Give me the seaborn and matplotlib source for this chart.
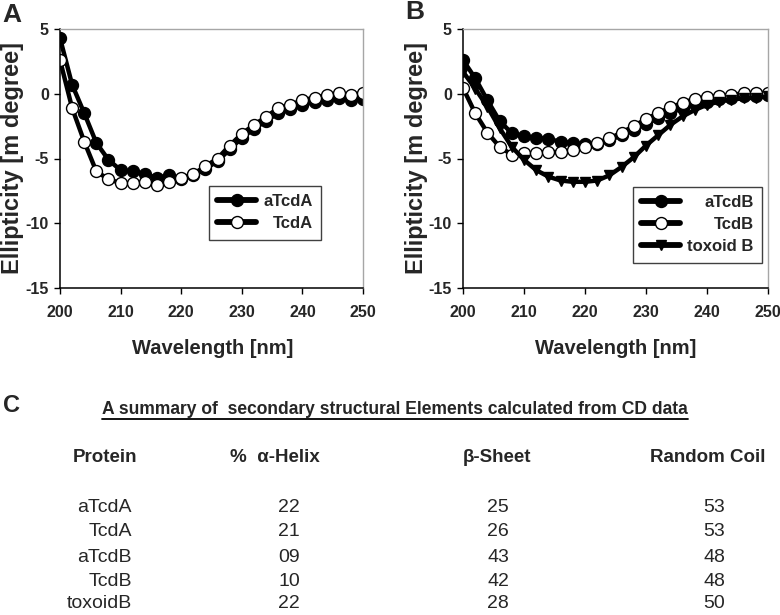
import matplotlib
matplotlib.use("Agg")
import matplotlib.pyplot as plt
import seaborn as sns
from matplotlib import font_manager
from matplotlib.lines import Line2D
from matplotlib.transforms import Affine2D

# ---------------- data ----------------
wavelength = list(range(200, 251, 2))

atcda = [4.3, 0.7, -1.5, -3.8, -5.1, -5.9, -6.0, -6.2, -6.5, -6.3, -6.6, -6.3, -5.8,
         -5.2, -4.3, -3.4, -2.7, -2.1, -1.5, -1.2, -0.9, -0.6, -0.45, -0.3, -0.45, -0.4]
tcda = [2.6, -1.1, -3.7, -6.0, -6.6, -6.9, -6.9, -6.85, -7.05, -6.8, -6.5, -6.2, -5.6,
        -5.0, -4.0, -3.1, -2.4, -1.8, -1.1, -0.85, -0.5, -0.3, -0.1, 0.05, -0.1, 0.05]

atcdb = [2.6, 1.2, -0.5, -2.1, -3.05, -3.3, -3.4, -3.5, -3.7, -3.8, -3.9, -3.9, -3.6,
         -3.2, -2.8, -2.3, -1.9, -1.5, -1.1, -0.8, -0.6, -0.4, -0.3, -0.2, -0.15, -0.1]
tcdb = [0.45, -1.5, -3.0, -4.1, -4.7, -4.6, -4.6, -4.5, -4.5, -4.35, -4.1, -3.8, -3.45,
        -3.0, -2.5, -1.95, -1.5, -1.05, -0.7, -0.4, -0.25, -0.15, -0.1, 0.05, 0.05, 0.05]
toxoidb = [1.7, 0.4, -1.0, -2.65, -4.1, -5.1, -5.9, -6.4, -6.7, -6.8, -6.8, -6.7, -6.3,
           -5.65, -4.9, -4.0, -3.2, -2.4, -1.75, -1.25, -0.85, -0.6, -0.45, -0.35, -0.3, -0.2]

x_ticks = [200, 210, 220, 230, 240, 250]
y_ticks = [5, 0, -5, -10, -15]

table_title = "A summary of  secondary structural Elements calculated from CD data"
table_headers = ["Protein", "%  α-Helix", "β-Sheet", "Random Coil"]
proteins = ["aTcdA", "TcdA", "aTcdB", "TcdB", "toxoidB"]
helix = ["22", "21", "09", "10", "22"]
sheet = ["25", "26", "43", "42", "28"]
coil = ["53", "53", "48", "48", "50"]

# ---------------- style ----------------
sns.set_style("white")
names = {f.name for f in font_manager.fontManager.ttflist}
HAS_NARROW = "Liberation Sans Narrow" in names
NARROW = "Liberation Sans Narrow" if HAS_NARROW else "Liberation Sans"
plt.rcParams["font.family"] = ["Liberation Sans", "DejaVu Sans"]

if HAS_NARROW:
    TICK_FS, LEG_FS, HEAD_FS, VAL_FS = 12.5, 13.0, 14.5, 15.0
else:
    TICK_FS, LEG_FS, HEAD_FS, VAL_FS = 11.5, 12.0, 13.5, 14.0

W, H = 780, 615
fig = plt.figure(figsize=(W / 100, H / 100), dpi=100)


def rect(l, t, r, b):
    return [l / W, 1 - b / H, (r - l) / W, (b - t) / H]


def fx(px):
    return px / W


def fy(py):
    return 1 - py / H


axA = fig.add_axes(rect(60, 29, 363, 288))
axB = fig.add_axes(rect(463, 29, 768, 288))

LW = 3.2


def draw(ax, y, label, marker, ms, mfc):
    sns.lineplot(x=wavelength, y=y, ax=ax, color="black", linewidth=LW,
                 marker=marker, markersize=ms, markerfacecolor=mfc,
                 markeredgecolor="black", markeredgewidth=1.0, label=label,
                 legend=False)


draw(axA, atcda, "aTcdA", "o", 8.6, "black")
draw(axA, tcda, "TcdA", "o", 8.6, "white")
draw(axB, atcdb, "aTcdB", "o", 8.6, "black")
draw(axB, tcdb, "TcdB", "o", 8.6, "white")
draw(axB, toxoidb, "toxoid B", "v", 6.5, "black")

tick_font = dict(family=NARROW, weight="bold", size=TICK_FS)
for ax in (axA, axB):
    ax.set_xlim(200, 250)
    ax.set_ylim(-15, 5)
    ax.set_xticks(x_ticks)
    ax.set_yticks(y_ticks)
    ax.set_xticklabels([str(v) for v in x_ticks], fontdict=tick_font)
    ax.set_yticklabels([str(v) for v in y_ticks], fontdict=tick_font)
    ax.tick_params(axis="both", direction="out", length=4, width=1,
                   color="black", bottom=True, left=True, pad=4)
    ax.tick_params(axis="x", pad=8)
    for s in ("left", "bottom"):
        ax.spines[s].set_color("black")
        ax.spines[s].set_linewidth(1.1)
    for s in ("top", "right"):
        ax.spines[s].set_color("#a6a6a6")
        ax.spines[s].set_linewidth(1.0)
    ax.set_xlabel("Wavelength [nm]", fontsize=14.5, fontweight="bold")
    ax.set_ylabel("Ellipticity [m degree]", fontsize=17, fontweight="bold")
    ax.xaxis.label.set_va("center")
    ax.yaxis.label.set_va("center")

axA.xaxis.set_label_coords((213 - 60) / 303, (288 - 348) / 259)
axA.yaxis.set_label_coords((13 - 60) / 303, (288 - 158) / 259)
axB.xaxis.set_label_coords((616 - 463) / 305, (288 - 348) / 259)
axB.yaxis.set_label_coords((416 - 463) / 305, (288 - 158) / 259)

leg_font = dict(family=NARROW, weight="bold", size=LEG_FS)


def make_legend(ax, anchor):
    handles = ax.get_lines()
    labels = [h.get_label() for h in handles]
    leg = ax.legend(handles, labels, loc="upper left", bbox_to_anchor=anchor,
                    frameon=True, fancybox=False, edgecolor="#404040",
                    framealpha=1, prop=leg_font, handlelength=2.3,
                    handletextpad=0.45, borderpad=0.5, labelspacing=0.42,
                    numpoints=1, borderaxespad=0)
    leg.get_frame().set_linewidth(1.0)
    for h in leg.legend_handles:
        h.set_linewidth(4.2)
    return leg


legA = make_legend(axA, ((209 - 60) / 303, (288 - 186) / 259))
legB = make_legend(axB, ((633 - 463) / 305, (288 - 187) / 259))

# panel letters
fig.text(fx(12), fy(15), "A", ha="center", va="center", fontsize=19, fontweight="bold")
fig.text(fx(415), fy(12), "B", ha="center", va="center", fontsize=19, fontweight="bold")
fig.text(fx(11), fy(405), "C", ha="center", va="center", fontsize=17, fontweight="bold")

# table
title_t = fig.text(fx(102), fy(409), table_title, ha="left", va="center",
                   family=NARROW, fontweight="bold", fontsize=13)
head_x = [105, 275, 497, 708]
for hx, htxt in zip(head_x, table_headers):
    fig.text(fx(hx), fy(458), htxt, ha="center", va="center",
             family=NARROW, fontweight="bold", fontsize=HEAD_FS)

row_y = [507, 532, 557, 581, 604]
val_font = dict(family=NARROW, fontweight="normal", fontsize=VAL_FS)
for ry, p, a, b, c in zip(row_y, proteins, helix, sheet, coil):
    fig.text(fx(132), fy(ry), p, ha="right", va="center", **val_font)
    fig.text(fx(289), fy(ry), a, ha="center", va="center", **val_font)
    fig.text(fx(498), fy(ry), b, ha="center", va="center", **val_font)
    fig.text(fx(714), fy(ry), c, ha="center", va="center", **val_font)

# fit title width, right-align legend texts, underline
fig.canvas.draw()
r = fig.canvas.get_renderer()
w = title_t.get_window_extent(r).width
title_t.set_fontsize(13 * 588 / w)
for leg in (legA, legB):
    texts = leg.get_texts()
    ws = [t.get_window_extent(r).width for t in texts]
    mw = max(ws)
    for t, tw in zip(texts, ws):
        t.set_transform(t.get_transform() + Affine2D().translate(mw - tw, 0))
fig.canvas.draw()
bb = title_t.get_window_extent(r)
fig.add_artist(Line2D([bb.x0 / W, bb.x1 / W], [fy(419), fy(419)],
                      transform=fig.transFigure, color="black", linewidth=1.3))

fig.savefig("out.png", dpi=100)
